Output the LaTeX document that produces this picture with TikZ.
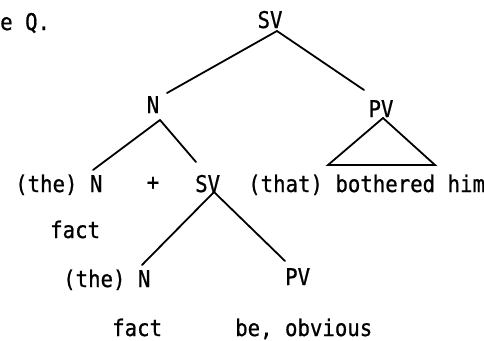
\documentclass[tikz,border=0pt]{standalone}
\usepackage{fontspec}
\setmonofont[FakeStretch=0.9,FakeBold=0.8]{DejaVu Sans Mono}
\begin{document}
\begin{tikzpicture}[x=1pt,y=-1pt,
  lbl/.style={font=\ttfamily\fontsize{23}{24}\selectfont, inner sep=0pt, anchor=base west},
  clbl/.style={lbl, anchor=base},
  edge/.style={line width=1.8pt, line cap=round}]
\useasboundingbox (0,0) rectangle (484,340);
% texts
\node[lbl] (eq) at (0,30) {e Q.};
\node[clbl] (sv) at (270,28) {SV};
\node[clbl] (n) at (153,113) {N};
\node[clbl] (pv) at (381,117) {PV};
\node[lbl] (then) at (15,192) {(the) N};
\node[clbl] (plus) at (153,190) {+};
\node[lbl] (sv2) at (195,192) {SV};
\node[lbl] (that) at (248,192) {(that) bothered him};
\node[lbl] (fact1) at (50,238) {fact};
\node[lbl] (then2) at (63,287) {(the) N};
\node[lbl] (pv2) at (285,285) {PV};
\node[lbl] (fact2) at (112,336) {fact};
\node[lbl] (beob) at (235,336) {be, obvious};
% connector points
\coordinate (svA) at (277,31);
\coordinate (nT) at (167,93);
\coordinate (nA) at (160,120);
\coordinate (nL) at (93,170);
\coordinate (nR) at (196,162);
\coordinate (pvT) at (364,90);
\coordinate (pvA) at (383,118);
\coordinate (triL) at (328,165);
\coordinate (triR) at (435,165);
\coordinate (sv2A) at (214,192);
\coordinate (lowL) at (142,265);
\coordinate (lowR) at (285,261);
% connectors
\draw[edge] (svA) -- (nT);
\draw[edge] (svA) -- (pvT);
\draw[edge] (nA) -- (nL);
\draw[edge] (nA) -- (nR);
\draw[edge] (pvA) -- (triL) -- (triR) -- cycle;
\draw[edge] (sv2A) -- (lowL);
\draw[edge] (sv2A) -- (lowR);
\end{tikzpicture}
\end{document}
